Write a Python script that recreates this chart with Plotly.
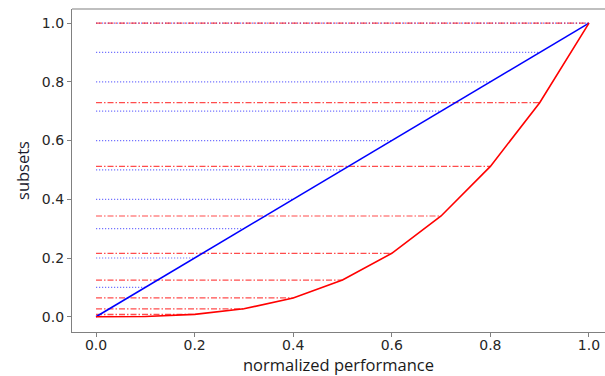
import plotly.graph_objects as go

perf = [0.0, 0.1, 0.2, 0.3, 0.4, 0.5, 0.6, 0.7, 0.8, 0.9, 1.0]
linear_subsets = [0.0, 0.1, 0.2, 0.3, 0.4, 0.5, 0.6, 0.7, 0.8, 0.9, 1.0]
curve_subsets = [0.0, 0.001, 0.008, 0.027, 0.064, 0.125, 0.216, 0.343, 0.512, 0.729, 1.0]
tick_vals = [0.0, 0.2, 0.4, 0.6, 0.8, 1.0]
tick_text = ["0.0", "0.2", "0.4", "0.6", "0.8", "1.0"]


def hlines(xs, ys):
    hx, hy = [], []
    for xv, yv in zip(xs, ys):
        hx += [0.0, xv, None]
        hy += [yv, yv, None]
    return hx, hy


fig = go.Figure()

bx, by = hlines(perf[1:], linear_subsets[1:])
fig.add_trace(go.Scatter(x=bx, y=by, mode="lines",
                         line=dict(color="rgba(0,0,255,0.55)", width=1.2, dash="1.2px,1.8px"),
                         hoverinfo="skip", showlegend=False))
rx, ry = hlines(perf[1:], curve_subsets[1:])
fig.add_trace(go.Scatter(x=rx, y=ry, mode="lines",
                         line=dict(color="rgba(255,0,0,0.7)", width=1.2, dash="6px,2px,1.5px,2px"),
                         hoverinfo="skip", showlegend=False))
fig.add_trace(go.Scatter(x=perf, y=linear_subsets, mode="lines",
                         line=dict(color="#0000ff", width=1.6), showlegend=False))
fig.add_trace(go.Scatter(x=perf, y=curve_subsets, mode="lines",
                         line=dict(color="#ff0000", width=1.6), showlegend=False))

axis_common = dict(
    tickmode="array", tickvals=tick_vals, ticktext=tick_text,
    ticks="outside", ticklen=4, tickwidth=1, tickcolor="#808080",
    showgrid=False, zeroline=False, showline=True, linecolor="#808080", linewidth=1.2,
    tickfont=dict(family="DejaVu Sans", size=14, color="#262626"),
)

fig.update_layout(
    width=605, height=376,
    margin=dict(l=72, r=0, t=9, b=44),
    paper_bgcolor="white", plot_bgcolor="white",
    xaxis=dict(range=[-0.0487, 1.0325], ticklabelstandoff=-4,
               title=dict(text="normalized performance", standoff=4,
                          font=dict(family="Open Sans", size=16.5, color="#1a1a1a")),
               **axis_common),
    yaxis=dict(range=[-0.052, 1.048],
               title=dict(text="subsets", standoff=8,
                          font=dict(family="Open Sans", size=16.5, color="#1a1a2e")),
               **axis_common),
)
fig.add_shape(type="line", xref="paper", yref="paper", x0=0, x1=1, y0=1, y1=1,
              line=dict(color="#808080", width=1.2))

fig.write_html("out.html")
